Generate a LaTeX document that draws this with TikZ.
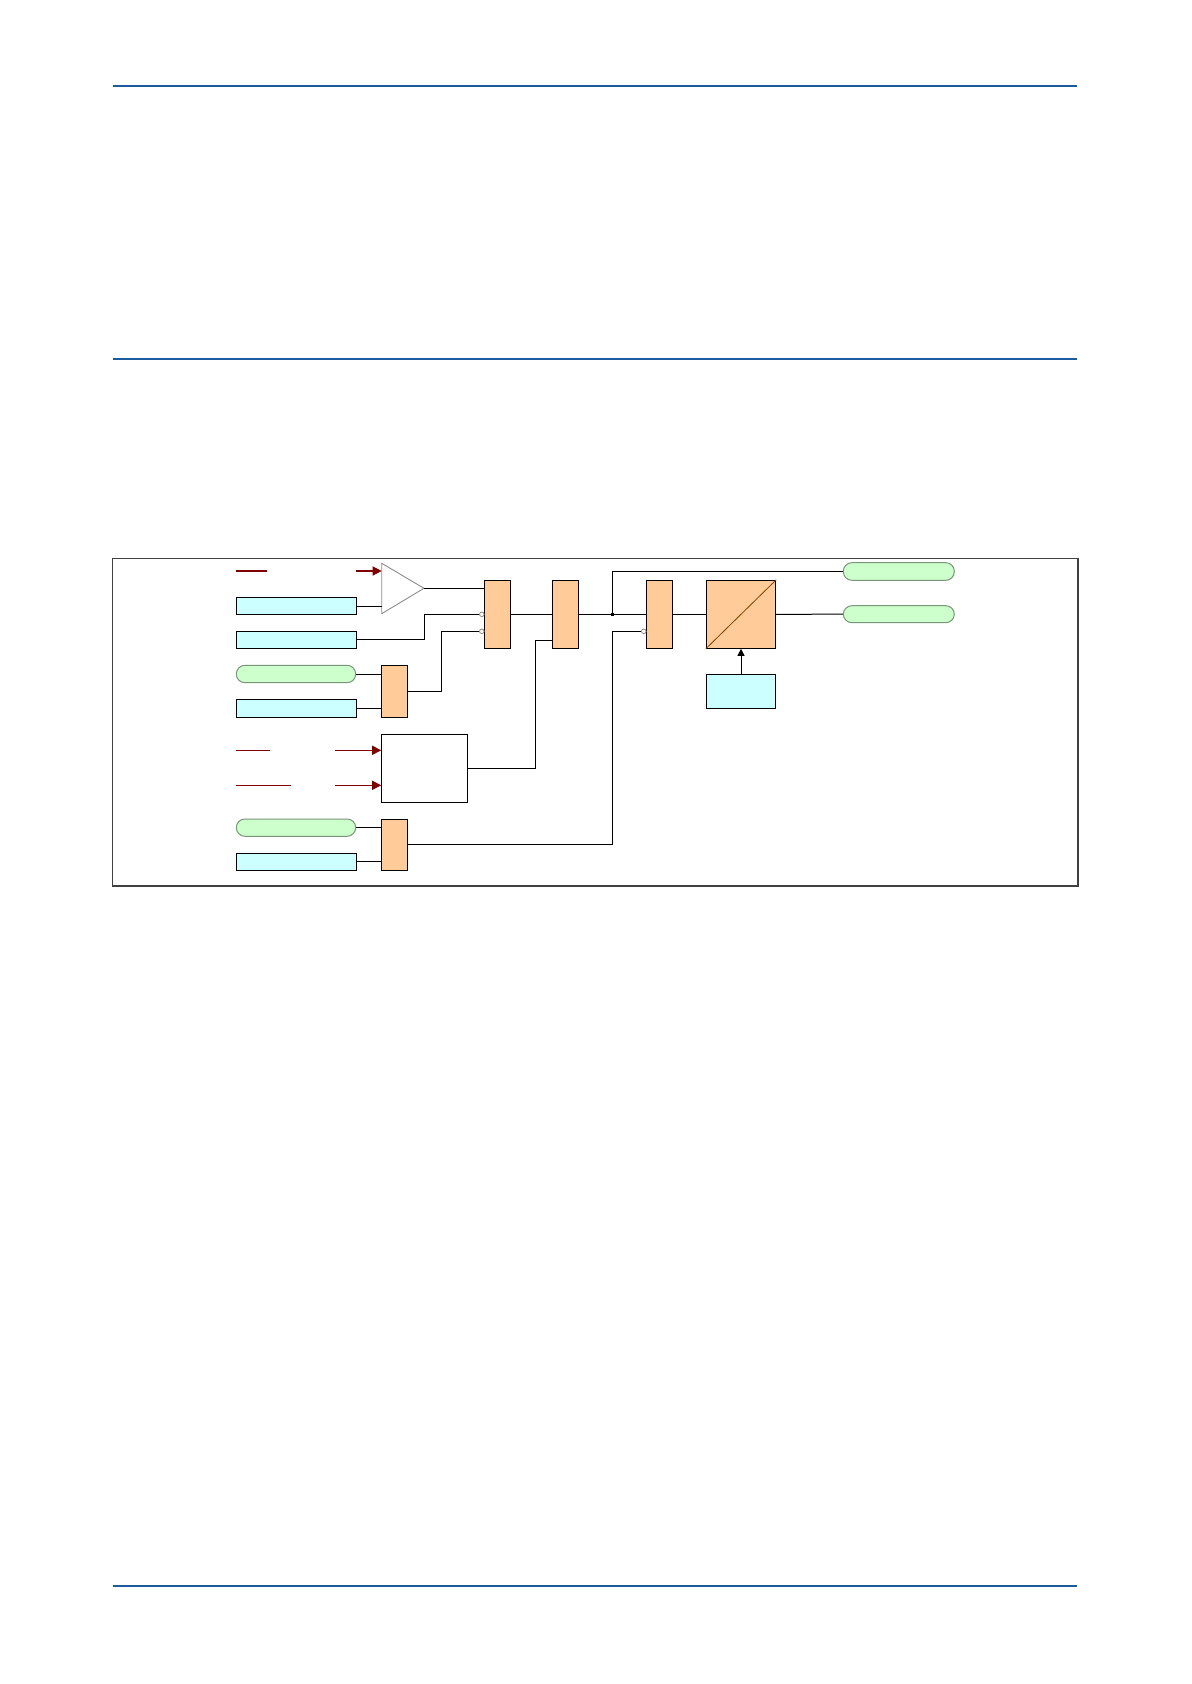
\documentclass[tikz,border=0pt]{standalone}
\usetikzlibrary{arrows.meta,fit}
\definecolor{hdrblue}{RGB}{26,92,158}
\definecolor{cyanfill}{RGB}{204,255,255}
\definecolor{greenfill}{RGB}{204,255,204}
\definecolor{greenedge}{RGB}{120,150,120}
\definecolor{orangefill}{RGB}{255,204,153}
\definecolor{darkred}{RGB}{128,0,0}
\definecolor{framegray}{RGB}{64,64,64}
\definecolor{diagbrown}{RGB}{128,64,0}
\definecolor{trigray}{RGB}{140,140,140}
\begin{document}
\begin{tikzpicture}[x=0.5pt,y=-0.5pt,
  box/.style={draw=black, line width=0.5pt, inner sep=0pt},
  cyanbox/.style={box, fill=cyanfill},
  whitebox/.style={box, fill=white},
  gate/.style={box, fill=orangefill},
  pill/.style={draw=greenedge, line width=0.5pt, fill=greenfill, rounded corners=4.3pt, inner sep=0pt},
  wire/.style={draw=black, line width=0.5pt},
  redin/.style={draw=darkred, line width=0.6pt},
  redarrow/.style={redin, -{Triangle[length=4.5pt,width=4.5pt]}},
  invc/.style={circle, draw=trigray, fill=white, line width=0.4pt, minimum size=2.3pt, inner sep=0pt},
  hdr/.style={draw=hdrblue}
]
\useasboundingbox (0,0) rectangle (1191,1684);

% header / footer rules
\draw[hdr, line width=0.85pt] (113,86) -- (1077,86);
\draw[hdr, line width=1.3pt] (113,359) -- (1077,359);
\draw[hdr, line width=0.85pt] (113,1585.7) -- (1077,1585.7);

% frame
\draw[framegray, line width=0.55pt] (112.7,558.3) rectangle (1077.7,886.3);
\draw[framegray, line width=0.85pt] (1077.7,558.3) -- (1077.7,886.3) -- (112.7,886.3);

% left column boxes
\node[cyanbox, fit={(236.3,597.3)(356.7,614.7)}] (c1) {};
\node[cyanbox, fit={(236.3,631.3)(356.7,648.3)}] (c2) {};
\node[pill, fit={(236.3,665.3)(355.7,682.7)}] (p1) {};
\node[cyanbox, fit={(236.3,699.3)(356.7,717.3)}] (c3) {};
\node[pill, fit={(236.3,819)(355.7,836.3)}] (p3) {};
\node[cyanbox, fit={(236.3,853.3)(356.7,870.3)}] (c5) {};

% small gates and timer box
\node[gate, fit={(381.7,665.3)(407.7,717.3)}] (o1) {};
\node[whitebox, fit={(381.7,734.3)(467.7,802.3)}] (wb) {};
\node[gate, fit={(381.7,819.3)(407.7,870.3)}] (o3) {};

% main chain
\node[gate, fit={(484.3,580.3)(510.7,648.3)}] (g1) {};
\node[gate, fit={(552.3,580.3)(578.7,648.3)}] (g2) {};
\node[gate, fit={(646.3,580.3)(672.7,648.3)}] (g3) {};
\node[gate, fit={(706.3,580.3)(775.7,648.3)}] (big) {};
\node[cyanbox, fit={(706.3,674.3)(775.7,708.3)}] (c4) {};
\node[pill, fit={(843.3,562.7)(954.3,580.3)}] (po1) {};
\node[pill, fit={(843.3,605.7)(954.3,622.7)}] (po2) {};

% comparator triangle
\coordinate (tA) at (381.7,563.3);
\coordinate (tB) at (381.7,613.7);
\coordinate (tC) at (424,588.3);
\draw[trigray, line width=0.45pt, fill=white] (tA) -- (tC) -- (tB) -- cycle;

% inversion circles
\node[invc] (n1) at (481.8,614.3) {};
\node[invc] (n2) at (481.8,631.3) {};
\node[invc] (n3) at (643.8,631.3) {};

% bend coordinates
\coordinate (k1) at (424.3,614.3);
\coordinate (k2) at (441.3,631.3);
\coordinate (k3) at (535.3,640.3);
\coordinate (j) at (612.7,614.3);
\coordinate (k4) at (612.7,631.3);

% red inputs
\coordinate (r1a) at (235.7,571);   \coordinate (r1b) at (266.7,571);
\coordinate (r2a) at (235.7,750.3); \coordinate (r2b) at (270,750.3);
\coordinate (r3a) at (235.7,785.3); \coordinate (r3b) at (290.7,785.3);
\coordinate (ra1) at (356,571);
\coordinate (ra2) at (335.3,750.3);
\coordinate (ra3) at (335.3,785.3);
\draw[redin] (r1a) -- (r1b);
\draw[redin] (r2a) -- (r2b);
\draw[redin] (r3a) -- (r3b);
\draw[redarrow] (ra1) -- (ra1 -| tA);
\draw[redarrow] (ra2) -- (ra2 -| wb.west);
\draw[redarrow] (ra3) -- (ra3 -| wb.west);

% wires
\draw[wire] (c1.east) -- (c1.east -| tA);
\draw[wire] (tC) -- (tC -| g1.west);
\draw[wire] (c2.east) -| (k1) -- (n1.west);
\draw[wire] (p1.east) -- (p1.east -| o1.west);
\draw[wire] (c3.east) -- (c3.east -| o1.west);
\draw[wire] (o1.east) -| (k2) -- (n2.west);
\draw[wire] (g1.east) -- (g2.west);
\draw[wire] (g2.east) -- (g3.west);
\draw[wire] (j) |- (po1.west);
\draw[wire] (wb.east) -| (k3) -- (k3 -| g2.west);
\draw[wire] (p3.east) -- (p3.east -| o3.west);
\draw[wire] (c5.east) -- (c5.east -| o3.west);
\draw[wire] (o3.east) -| (k4) -- (n3.west);
\draw[wire] (g3.east) -- (big.west);
\draw[wire] (big.east) -- (po2.west);
\draw[wire, -{Triangle[length=3.5pt,width=3.5pt]}] (c4.north) -- (big.south);
\draw[diagbrown, line width=0.4pt] (big.south west) -- (big.north east);
\node[fill=black, minimum size=1.6pt, inner sep=0pt] (jd) at (j) {};
\end{tikzpicture}
\end{document}
